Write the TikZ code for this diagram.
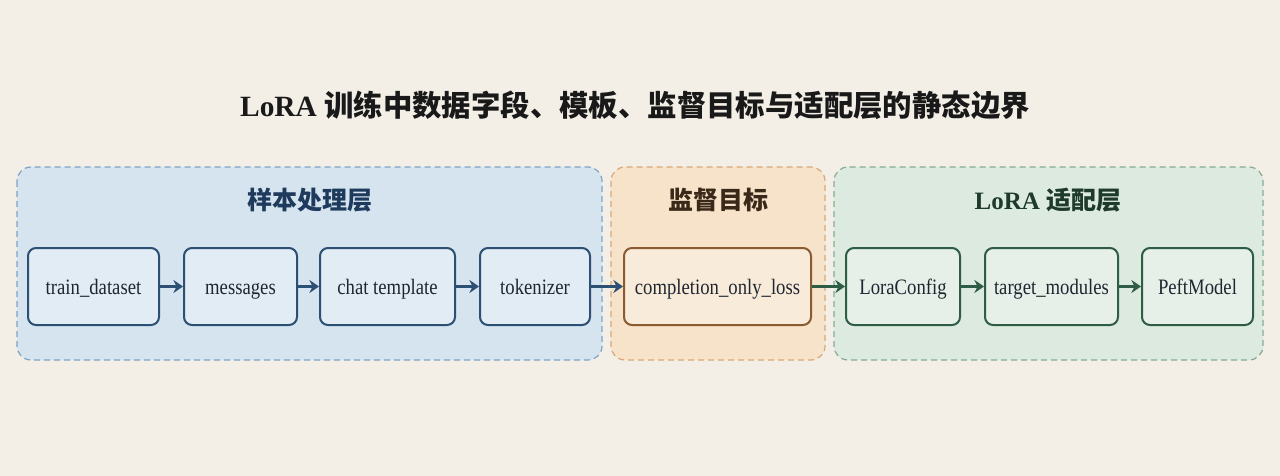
\documentclass[tikz,border=0pt]{standalone}
\usepackage{fontspec}
\setmainfont{Liberation Serif}
\newfontfamily\cjk{Noto Sans CJK SC}
\newfontfamily\narrowserif[FakeStretch=0.85]{Liberation Serif}
\usetikzlibrary{arrows.meta,positioning}
\definecolor{paper}{HTML}{F3EFE6}
\definecolor{bluF}{HTML}{D6E4EF}
\definecolor{bluD}{HTML}{7EA3C6}
\definecolor{bluB}{HTML}{2C4F74}
\definecolor{bluT}{HTML}{1E3A5C}
\definecolor{ornF}{HTML}{F6E3CA}
\definecolor{ornD}{HTML}{D9A87A}
\definecolor{ornB}{HTML}{8A5A30}
\definecolor{ornT}{HTML}{3A2818}
\definecolor{grnF}{HTML}{DCEADF}
\definecolor{grnD}{HTML}{86AC90}
\definecolor{grnB}{HTML}{2E5C44}
\definecolor{grnT}{HTML}{1E3A2A}
\definecolor{inkT}{HTML}{1F2630}
\begin{document}
\begin{tikzpicture}[x=0.5pt,y=-0.5pt,>={Stealth[length=4.8pt,width=6.5pt]},
  layer/.style={dashed,dash pattern=on 3pt off 2pt,line width=0.6pt,rounded corners=7pt},
  laytitle/.style={font=\cjk\bfseries\fontsize{12.5}{14}\selectfont},
  stage/.style={draw,line width=1pt,rounded corners=4pt,minimum height=38.5pt,inner sep=0pt,
    text height=10pt,text depth=2pt,font=\narrowserif\fontsize{11}{13}\selectfont,text=inkT},
  flow/.style={->,line width=1.2pt}]
\fill[paper] (0,0) rectangle (1280,476);
\useasboundingbox (0,0) rectangle (1280,476);
% title
\node[font=\bfseries\fontsize{14.7}{17}\selectfont,text=black!90] (title) at (635,105)
  {LoRA {\cjk 训练中数据字段、模板、监督目标与适配层的静态边界}};
% layers
\draw[layer,draw=bluD,fill=bluF] (17,167) rectangle (602,360);
\draw[layer,draw=ornD,fill=ornF] (611,167) rectangle (825,360);
\draw[layer,draw=grnD,fill=grnF] (834,167) rectangle (1263,360);
\node[laytitle,text=bluT] (tS) at (310,200) {样本处理层};
\node[laytitle,text=ornT] (tJ) at (718,200) {监督目标};
\node[laytitle,text=grnT] (tL) at (1048,200) {\fontspec{Liberation Serif}LoRA {\cjk 适配层}};
% stages
\foreach \n/\x/\w/\t in {s1/93.5/65.5/train\_dataset,s2/240.5/56.5/messages,
    s3/387.5/67.5/chat template,s4/535/55/tokenizer}
  \node[stage,draw=bluB,fill=bluF!70!white,minimum width=\w pt] (\n) at (\x,286.5) {\t};
\node[stage,draw=ornB,fill=ornF!70!white,minimum width=93.5pt] (j1) at (717.5,286.5) {completion\_only\_loss};
\foreach \n/\x/\w/\t in {l1/903/57/LoraConfig,l2/1051.5/66.5/target\_modules,l3/1197.5/55.5/PeftModel}
  \node[stage,draw=grnB,fill=grnF!70!white,minimum width=\w pt] (\n) at (\x,286.5) {\t};
% connectors
\foreach \a/\b in {s1/s2,s2/s3,s3/s4,s4/j1} \draw[flow,bluB] (\a) -- (\b);
\foreach \a/\b in {j1/l1,l1/l2,l2/l3} \draw[flow,grnB] (\a) -- (\b);
\end{tikzpicture}
\end{document}
